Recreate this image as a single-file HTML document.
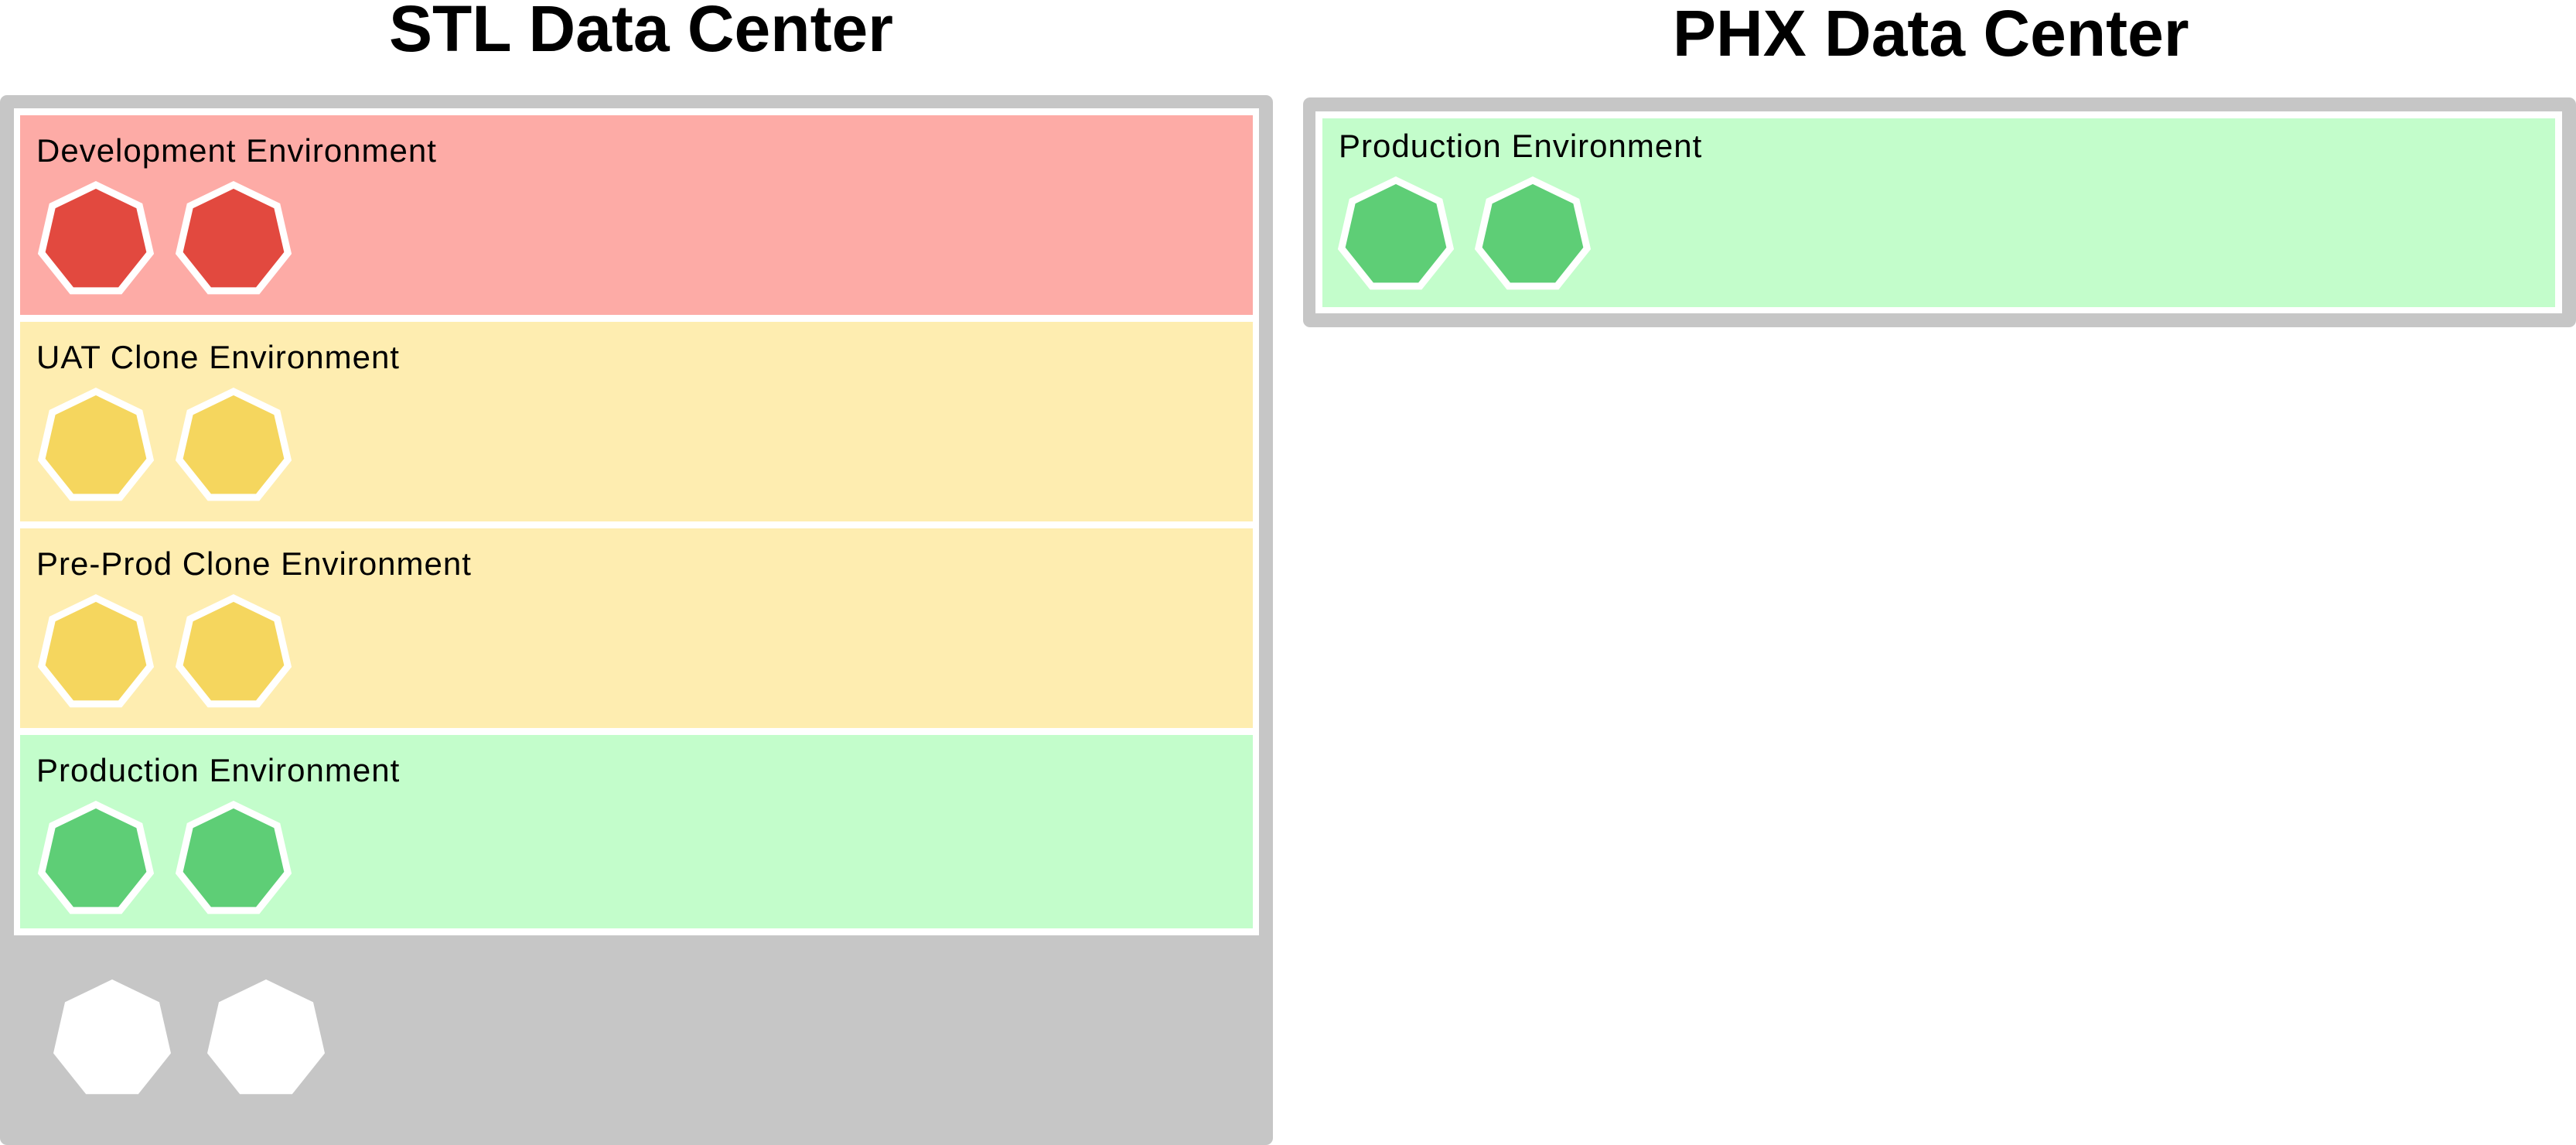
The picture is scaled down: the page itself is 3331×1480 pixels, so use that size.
<!DOCTYPE html>
<html><head><meta charset="utf-8"><style>
html,body{margin:0;padding:0;background:#fff;}
body{position:relative;width:3331px;height:1480px;overflow:hidden;font-family:"Liberation Sans",sans-serif;}
.a{position:absolute;}
.t{position:absolute;font-size:84px;font-weight:bold;line-height:84px;color:#000;white-space:nowrap;}
.l{position:absolute;font-size:42px;line-height:42px;color:#000;white-space:nowrap;letter-spacing:1px;}
svg{position:absolute;left:0;top:0;}
</style></head><body>
<div class="t" style="left:503px;top:-5px;">STL Data Center</div>
<div class="t" style="left:2163px;top:1px;">PHX Data Center</div>

<div class="a" style="left:0;top:123px;width:1646px;height:1357px;background:#c6c6c6;border-radius:9px;"></div>
<div class="a" style="left:18px;top:140px;width:1610px;height:1069px;background:#fff;"></div>
<div class="a" style="left:26px;top:149px;width:1594px;height:258px;background:#fdaba6;"></div>
<div class="a" style="left:26px;top:416px;width:1594px;height:258px;background:#feedb0;"></div>
<div class="a" style="left:26px;top:683px;width:1594px;height:258px;background:#feedb0;"></div>
<div class="a" style="left:26px;top:950px;width:1594px;height:250px;background:#c3fdcb;"></div>

<div class="a" style="left:1685px;top:126px;width:1646px;height:297px;background:#c6c6c6;border-radius:9px;"></div>
<div class="a" style="left:1701px;top:144px;width:1612px;height:261px;background:#fff;"></div>
<div class="a" style="left:1710px;top:153px;width:1594px;height:244px;background:#c3fdcb;"></div>

<div class="l" style="left:47px;top:174px;">Development Environment</div>
<div class="l" style="left:47px;top:441px;">UAT Clone Environment</div>
<div class="l" style="left:47px;top:708px;">Pre-Prod Clone Environment</div>
<div class="l" style="left:47px;top:975px;">Production Environment</div>
<div class="l" style="left:1731px;top:168px;">Production Environment</div>

<svg width="3331" height="1480" viewBox="0 0 3331 1480" xmlns="http://www.w3.org/2000/svg">
<g stroke="#fff" stroke-width="9">
<polygon fill="#e2493f" points="124,239 180.3,266.1 194.2,327 155.2,375.9 92.8,375.9 53.8,327 67.7,266.1"/>
<polygon fill="#e2493f" points="302,239 358.3,266.1 372.2,327 333.2,375.9 270.8,375.9 231.8,327 245.7,266.1"/>
<polygon fill="#f5d65e" points="124,506 180.3,533.1 194.2,594 155.2,642.9 92.8,642.9 53.8,594 67.7,533.1"/>
<polygon fill="#f5d65e" points="302,506 358.3,533.1 372.2,594 333.2,642.9 270.8,642.9 231.8,594 245.7,533.1"/>
<polygon fill="#f5d65e" points="124,773 180.3,800.1 194.2,861 155.2,909.9 92.8,909.9 53.8,861 67.7,800.1"/>
<polygon fill="#f5d65e" points="302,773 358.3,800.1 372.2,861 333.2,909.9 270.8,909.9 231.8,861 245.7,800.1"/>
<polygon fill="#5ece76" points="124,1040 180.3,1067.1 194.2,1128 155.2,1176.9 92.8,1176.9 53.8,1128 67.7,1067.1"/>
<polygon fill="#5ece76" points="302,1040 358.3,1067.1 372.2,1128 333.2,1176.9 270.8,1176.9 231.8,1128 245.7,1067.1"/>
<polygon fill="#5ece76" points="1805,233 1861.3,260.1 1875.2,321 1836.2,369.9 1773.8,369.9 1734.8,321 1748.7,260.1"/>
<polygon fill="#5ece76" points="1982,233 2038.3,260.1 2052.2,321 2013.2,369.9 1950.8,369.9 1911.8,321 1925.7,260.1"/>
</g>
<polygon fill="#fff" points="145,1266 206,1295.4 221,1361.4 178.8,1414.3 111.2,1414.3 69,1361.4 84,1295.4"/>
<polygon fill="#fff" points="344,1266 405,1295.4 420,1361.4 377.8,1414.3 310.2,1414.3 268,1361.4 283,1295.4"/>
</svg>
</body></html>
